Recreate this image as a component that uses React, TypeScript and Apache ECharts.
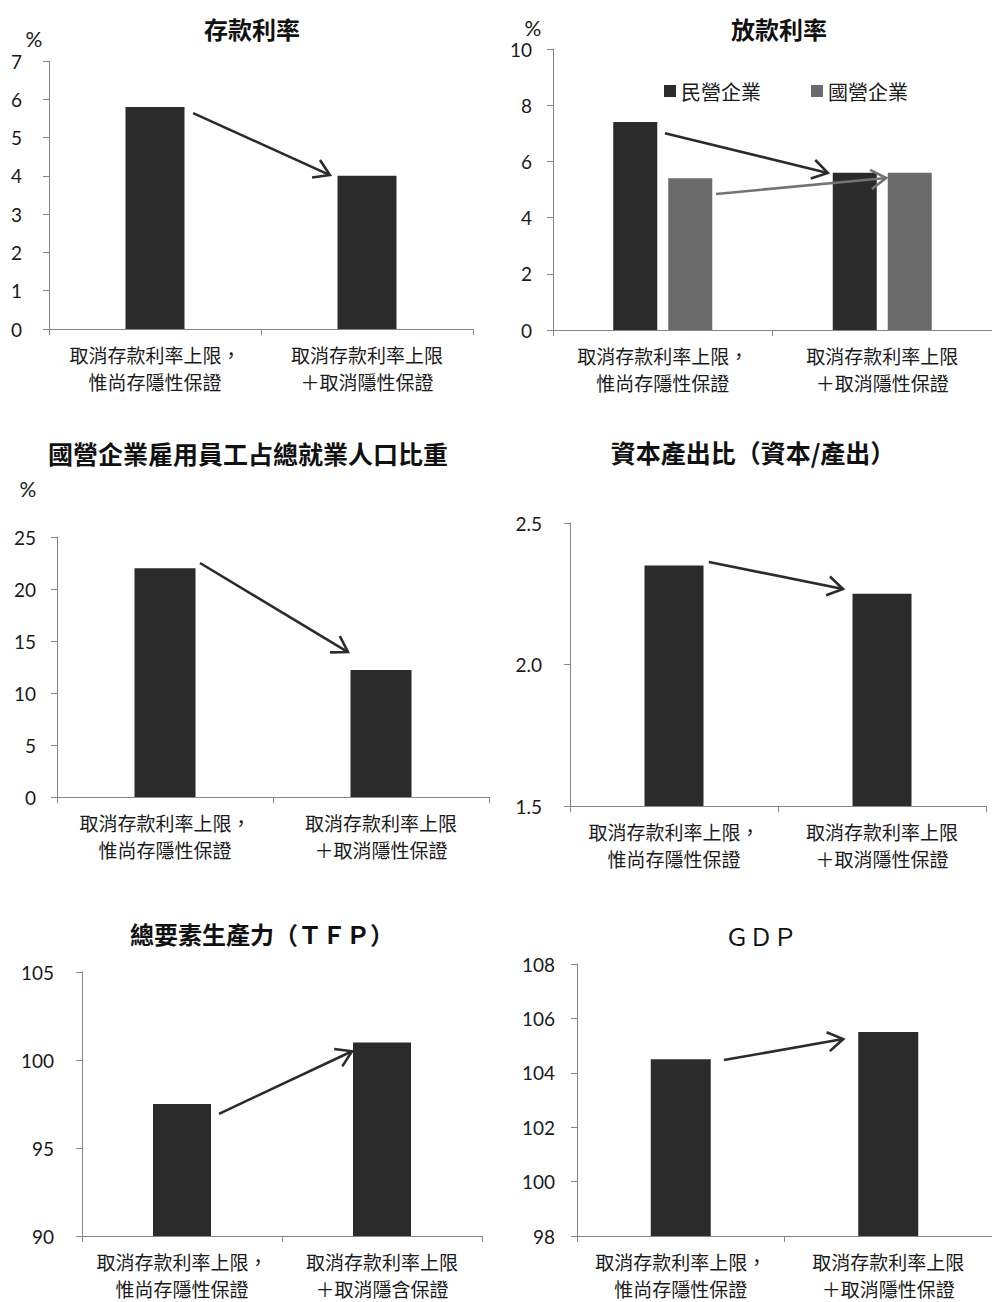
import React, { useEffect, useRef } from 'react';
import * as echarts from 'echarts';

// Scenario categories (x axis)
const SCENARIOS = ['取消存款利率上限，\n惟尚存隱性保證', '取消存款利率上限\n＋取消隱性保證'];
const SCENARIOS_TFP = ['取消存款利率上限，\n惟尚存隱性保證', '取消存款利率上限\n＋取消隱含保證'];

// Series values
const depositRate = [5.8, 4.0];
const loanRatePrivate = [7.4, 5.6];
const loanRateState = [5.4, 5.6];
const soeEmploymentShare = [22, 12.2];
const capitalOutputRatio = [2.35, 2.25];
const tfpIndex = [97.5, 101];
const gdpIndex = [104.5, 105.5];

const LEGEND_NAMES = ['民營企業', '國營企業'];

// Titles
const TITLES = [
  '存款利率',
  '放款利率',
  '國營企業雇用員工占總就業人口比重',
  '資本產出比（資本/產出）',
  '總要素生產力（ＴＦＰ）',
  'ＧＤＰ',
];

// Trend arrows, [x0, y0, x1, y1]: x in category units (0 = first band centre), y in axis units
const depositArrow = [[0.18, 5.64, 0.825, 4.02]];
const loanArrowPrivate = [[0.01, 7.0, 0.752, 5.59]];
const loanArrowState = [[0.243, 4.84, 1.018, 5.41]];
const soeArrow = [[0.162, 22.5, 0.847, 13.94]];
const capitalArrow = [[0.168, 2.362, 0.8125, 2.267]];
const tfpArrow = [[0.185, 96.94, 0.85, 100.5]];
const gdpArrow = [[0.208, 104.47, 0.783, 105.24]];

const DARK = '#2b2b2b';
const GREY = '#6b6b6b';
const AXIS = '#868686';
const INK = '#1a1a1a';
const CJK = '"Noto Sans CJK TC", "Noto Sans CJK SC", sans-serif';
const NUM = 'Lato, "Noto Sans", sans-serif';

type Panel = {
  grid: { left: number; top: number; width: number; height: number };
  y: { min: number; max: number; interval: number; decimals?: number; margin: number };
  cats: string[];
  bars: { name: string; data: number[]; color: string }[];
  barWidth: number;
  arrows: { data: number[][]; color: string }[];
  title: { x: number; y: number; size: number; bold: boolean };
  percent?: { x: number; y: number };
};

const panels: Panel[] = [
  {
    grid: { left: 49, top: 61, width: 424, height: 268 },
    y: { min: 0, max: 7, interval: 1, margin: 27 },
    cats: SCENARIOS,
    bars: [{ name: TITLES[0], data: depositRate, color: DARK }],
    barWidth: 59,
    arrows: [{ data: depositArrow, color: DARK }],
    title: { x: 252, y: 28, size: 24, bold: true },
    percent: { x: 34, y: 38 },
  },
  {
    grid: { left: 553, top: 49, width: 452, height: 281 },
    y: { min: 0, max: 10, interval: 2, margin: 21 },
    cats: SCENARIOS,
    bars: [
      { name: LEGEND_NAMES[0], data: loanRatePrivate, color: DARK },
      { name: LEGEND_NAMES[1], data: loanRateState, color: GREY },
    ],
    barWidth: 44,
    arrows: [
      { data: loanArrowPrivate, color: DARK },
      { data: loanArrowState, color: '#737373' },
    ],
    title: { x: 779, y: 28, size: 24, bold: true },
    percent: { x: 533, y: 27 },
  },
  {
    grid: { left: 57, top: 537, width: 432, height: 260 },
    y: { min: 0, max: 25, interval: 5, margin: 21 },
    cats: SCENARIOS,
    bars: [{ name: TITLES[2], data: soeEmploymentShare, color: DARK }],
    barWidth: 61,
    arrows: [{ data: soeArrow, color: DARK }],
    title: { x: 248, y: 453, size: 25, bold: true },
    percent: { x: 28, y: 488 },
  },
  {
    grid: { left: 570, top: 523, width: 416, height: 283 },
    y: { min: 1.5, max: 2.5, interval: 0.5, decimals: 1, margin: 28 },
    cats: SCENARIOS,
    bars: [{ name: TITLES[3], data: capitalOutputRatio, color: DARK }],
    barWidth: 59,
    arrows: [{ data: capitalArrow, color: DARK }],
    title: { x: 753, y: 452, size: 25, bold: true },
  },
  {
    grid: { left: 82, top: 972, width: 400, height: 270 },
    y: { min: 90, max: 105, interval: 5, margin: 28 },
    cats: SCENARIOS_TFP,
    bars: [{ name: TITLES[4], data: tfpIndex, color: DARK }],
    barWidth: 58,
    arrows: [{ data: tfpArrow, color: DARK }],
    title: { x: 262, y: 933, size: 24, bold: true },
  },
  {
    grid: { left: 577, top: 964, width: 424, height: 275 },
    y: { min: 98, max: 108, interval: 2, margin: 22 },
    cats: SCENARIOS,
    bars: [{ name: TITLES[5], data: gdpIndex, color: DARK }],
    barWidth: 60,
    arrows: [{ data: gdpArrow, color: DARK }],
    title: { x: 761, y: 935, size: 24, bold: false },
  },
];

function arrowRenderer(color: string) {
  return (_params: any, api: any) => {
    const p0 = api.coord([api.value(0), api.value(1)]);
    const p1 = api.coord([api.value(2), api.value(3)]);
    const ang = Math.atan2(p1[1] - p0[1], p1[0] - p0[0]);
    const len = 18;
    const half = 0.56;
    const a1 = [p1[0] - len * Math.cos(ang - half), p1[1] - len * Math.sin(ang - half)];
    const a2 = [p1[0] - len * Math.cos(ang + half), p1[1] - len * Math.sin(ang + half)];
    return {
      type: 'group',
      children: [
        {
          type: 'line',
          shape: { x1: p0[0], y1: p0[1], x2: p1[0], y2: p1[1] },
          style: { stroke: color, lineWidth: 2.6 },
        },
        {
          type: 'polyline',
          shape: { points: [a1, p1, a2] },
          style: { stroke: color, lineWidth: 2.6, fill: null },
        },
      ],
    };
  };
}

function buildOption() {
  const grid: any[] = [];
  const xAxis: any[] = [];
  const yAxis: any[] = [];
  const series: any[] = [];
  const graphic: any[] = [];

  panels.forEach((p, i) => {
    grid.push({ ...p.grid, containLabel: false });
    xAxis.push({
      type: 'category',
      gridIndex: i,
      data: p.cats,
      axisLine: { onZero: false, lineStyle: { color: AXIS, width: 1 } },
      axisTick: { show: true, length: 6, lineStyle: { color: AXIS } },
      axisLabel: {
        interval: 0,
        margin: 12,
        color: INK,
        fontSize: 19,
        lineHeight: 27,
        fontFamily: CJK,
      },
      splitLine: { show: false },
    });
    xAxis.push({ type: 'value', gridIndex: i, min: -0.5, max: 1.5, show: false });
    yAxis.push({
      type: 'value',
      gridIndex: i,
      min: p.y.min,
      max: p.y.max,
      interval: p.y.interval,
      axisLine: { show: true, onZero: false, lineStyle: { color: AXIS, width: 1 } },
      axisTick: { show: true, length: 6, lineStyle: { color: AXIS } },
      splitLine: { show: false },
      axisLabel: {
        margin: p.y.margin,
        color: INK,
        fontSize: 19,
        fontFamily: NUM,
        formatter: (v: number) => (p.y.decimals ? v.toFixed(p.y.decimals) : String(v)),
      },
    });
    p.bars.forEach((b) => {
      series.push({
        type: 'bar',
        name: b.name,
        xAxisIndex: 2 * i,
        yAxisIndex: i,
        data: b.data,
        barWidth: p.barWidth,
        barGap: '25%',
        itemStyle: { color: b.color },
      });
    });
    p.arrows.forEach((a) => {
      series.push({
        type: 'custom',
        xAxisIndex: 2 * i + 1,
        yAxisIndex: i,
        data: a.data,
        encode: { x: [0, 2], y: [1, 3] },
        renderItem: arrowRenderer(a.color),
        clip: false,
        silent: true,
        z: 5,
      });
    });
    graphic.push({
      type: 'text',
      x: p.title.x,
      y: p.title.y,
      style: {
        text: TITLES[i],
        align: 'center',
        verticalAlign: 'middle',
        fill: '#111',
        font: `${p.title.bold ? 'bold ' : ''}${p.title.size}px ${CJK}`,
      },
    });
    if (p.percent) {
      graphic.push({
        type: 'text',
        x: p.percent.x,
        y: p.percent.y,
        style: {
          text: '%',
          align: 'center',
          verticalAlign: 'middle',
          fill: INK,
          font: `21px ${NUM}`,
        },
      });
    }
  });

  return {
    animation: false,
    backgroundColor: '#ffffff',
    grid,
    xAxis,
    yAxis,
    series,
    graphic,
    legend: {
      data: LEGEND_NAMES,
      left: 659,
      top: 76,
      icon: 'rect',
      itemWidth: 12,
      itemHeight: 12,
      itemGap: 50,
      selectedMode: false,
      textStyle: { fontSize: 20, fontFamily: CJK, color: INK },
    },
  };
}

export default function App() {
  const ref = useRef<HTMLDivElement>(null);
  useEffect(() => {
    if (!ref.current) return;
    const chart = echarts.init(ref.current, null, { renderer: 'svg' });
    chart.setOption(buildOption() as any);
    return () => chart.dispose();
  }, []);
  return (
    <div
      ref={ref}
      style={{ position: 'absolute', left: 0, top: 0, width: 992, height: 1302, background: '#fff' }}
    />
  );
}
